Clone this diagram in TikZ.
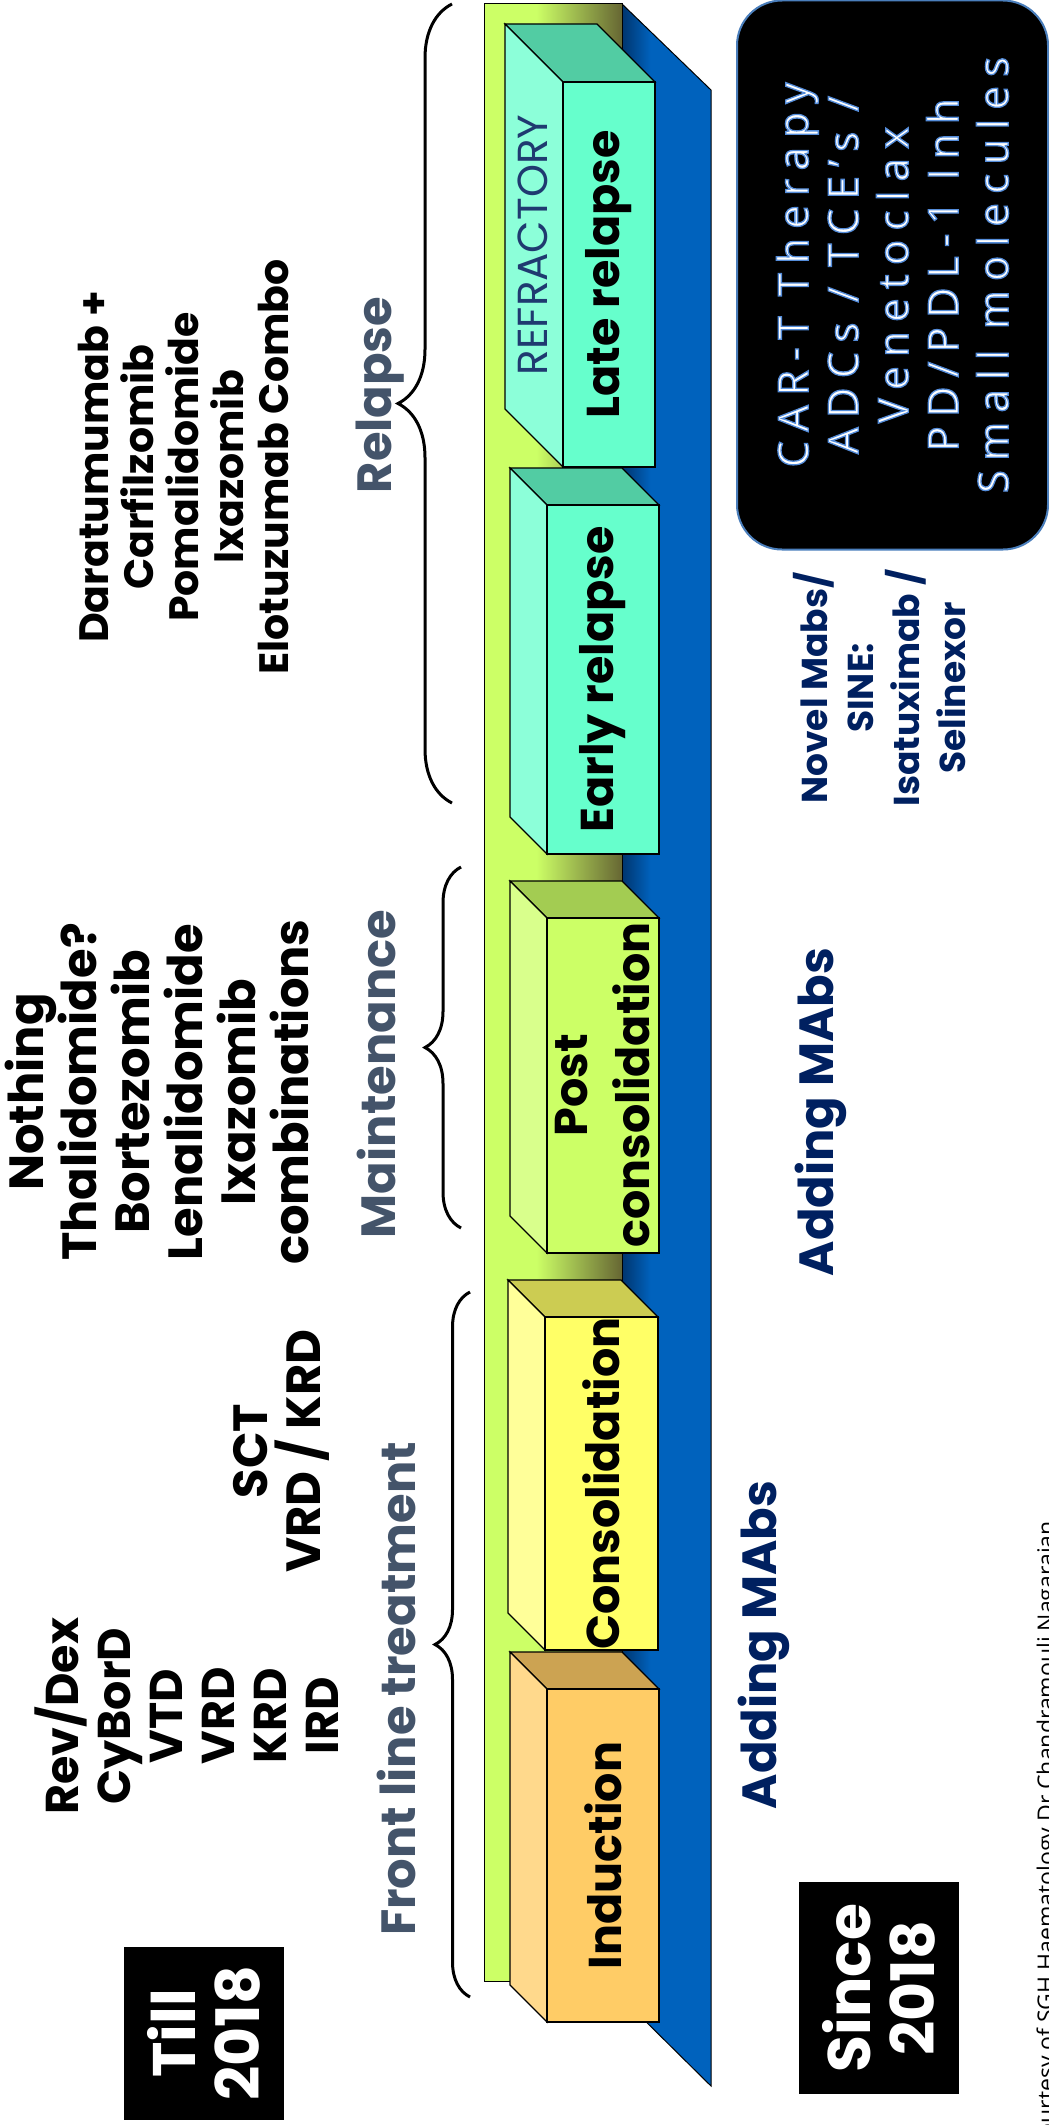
\documentclass[tikz,border=0pt]{standalone}
\usepackage{fontspec}
\setmainfont{Poppins}
\newfontfamily\cartfont{Open Sans}[LetterSpace=22]
\newfontfamily\creditfont{Open Sans}
\usetikzlibrary{decorations.pathreplacing}

\definecolor{slate}{HTML}{44546A}
\definecolor{navy}{HTML}{002060}
\definecolor{refblue}{HTML}{1F3A70}
\definecolor{barlight}{HTML}{CCFF66}
\definecolor{barolive}{HTML}{666633}
\definecolor{bluedark}{HTML}{00356E}
\definecolor{bluemain}{HTML}{0062BD}
\definecolor{cartedge}{HTML}{4A7EBB}
\definecolor{indfront}{HTML}{FFCC66}
\definecolor{indside}{HTML}{FFD98C}
\definecolor{indtop}{HTML}{CCA352}
\definecolor{confront}{HTML}{FFFF66}
\definecolor{conside}{HTML}{FFFF99}
\definecolor{contop}{HTML}{CCCC52}
\definecolor{postfront}{HTML}{CCFF66}
\definecolor{postside}{HTML}{D9FF8C}
\definecolor{posttop}{HTML}{A3CC52}
\definecolor{relfront}{HTML}{66FFCC}
\definecolor{relside}{HTML}{8CFFD9}
\definecolor{reltop}{HTML}{52CCA3}

\pgfdeclarehorizontalshading{barshade}{100bp}{color(0bp)=(barlight); color(25bp)=(barlight); color(44bp)=(barlight); color(75bp)=(barolive); color(100bp)=(barolive)}
\pgfdeclarehorizontalshading{blueshade}{100bp}{color(0bp)=(bluedark); color(25bp)=(bluedark); color(41bp)=(bluemain); color(100bp)=(bluemain)}

% 3D phase box: front corners (#1,#2)-(#3,#4), depth #5, colours front/side/top
\newcommand{\phasebox}[8]{%
  \filldraw[boxedge, fill=#8] (#1,#2) -- (#3,#2) -- ({#3-#5},{#2-#5}) -- ({#1-#5},{#2-#5}) -- cycle;
  \filldraw[boxedge, fill=#7] (#1,#2) -- ({#1-#5},{#2-#5}) -- ({#1-#5},{#4-#5}) -- (#1,#4) -- cycle;
  \filldraw[boxedge, fill=#6] (#1,#2) rectangle (#3,#4);
}
\newcommand{\glowon}{\special{pdf:literal direct 2 Tr 1.3 w 0.33 0.55 0.85 RG}}

\begin{document}
\begin{tikzpicture}[
    x=1pt, y=-1pt,
    boxedge/.style={draw=black, line width=1.1pt},
    boxlabel/.style={rotate=90, align=center, inner sep=0pt, font=\bfseries\fontsize{46}{55}\selectfont},
    druglist/.style={rotate=90, align=center, inner sep=0pt, font=\bfseries\fontsize{48}{53}\selectfont},
    phase/.style={rotate=90, anchor=base, inner sep=0pt, text=slate, font=\bfseries\fontsize{48}{56}\selectfont},
    mabs/.style={rotate=90, anchor=base, inner sep=0pt, text=navy, font=\bfseries\fontsize{48}{56}\selectfont},
    yearbox/.style={rotate=90, fill=black, text=white, align=center, inner sep=0pt, minimum height=160pt, font=\bfseries\fontsize{60}{64}\selectfont},
    bracket/.style={decorate, decoration={brace, amplitude=#1}, line width=3pt}
]
\useasboundingbox (0,0) rectangle (1049,2125);
\clip (0,0) rectangle (1049,2125);

% Define the bar and its shadow
\path[shading=blueshade, draw=black, line width=1pt] (622,4) -- (711,90) -- (711,2086) -- (622,1998) -- cycle;
\path[shading=barshade, draw=black, line width=1pt] (484,4) rectangle (622,1981);

% Define the phase boxes
\phasebox{563}{82}{655}{467}{58}{relfront}{relside}{reltop}
\phasebox{547}{505}{659}{854}{37}{relfront}{relside}{reltop}
\phasebox{547}{918}{659}{1253}{37}{postfront}{postside}{posttop}
\phasebox{545}{1317}{658}{1650}{37}{confront}{conside}{contop}
\phasebox{547}{1689}{659}{2022}{37}{indfront}{indside}{indtop}

\node[boxlabel] (laterel) at (609,274.5) {Late relapse};
\node[rotate=90, inner sep=0pt, text=refblue, font=\fontsize{42}{48}\selectfont] (refractory) at (533,245) {REFRACTORY};
\node[boxlabel] (earlyrel) at (603,679.5) {Early relapse};
\node[boxlabel, font=\bfseries\fontsize{46}{62}\selectfont] (postcons) at (603,1085) {Post\\consolidation};
\node[boxlabel] (consol) at (601.5,1483.5) {Consolidation};
\node[boxlabel] (induction) at (603,1855.5) {Induction};

% Define the braces and phase names
\draw[bracket=35pt] (470,1997) -- (470,1292);
\draw[bracket=36pt] (461,1228) -- (461,867);
\draw[bracket=54pt] (452,803) -- (452,4);
\node[phase] (frontline) at (415,1689) {Front line treatment};
\node[phase] (maint) at (395,1074) {Maintenance};
\node[phase] (relapse) at (391,395) {Relapse};

% Define the drug lists
\node[druglist, font=\bfseries\fontsize{46}{52}\selectfont] (revlist) at (187,1716) {Rev/Dex\\CyBorD\\VTD\\VRD\\KRD\\IRD};
\node[druglist] (sctlist) at (281,1451) {SCT\\VRD / KRD};
\node[druglist] (maintlist) at (157,1092) {Nothing\\Thalidomide?\\Bortezomib\\Lenalidomide\\Ixazomib\\combinations};
\node[druglist, font=\bfseries\fontsize{41}{45}\selectfont] (relapselist) at (183,467) {Daratumumab +\\Carfilzomib\\Pomalidomide\\Ixazomib\\Elotuzumab Combo};

% Define the newer agents
\node[mabs] (mabslow) at (776,1645) {Adding MAbs};
\node[mabs] (mabshigh) at (833,1112) {Adding MAbs};
\node[druglist, text=navy, font=\bfseries\fontsize{36}{46}\selectfont] (novel) at (880,688) {Novel Mabs/\\SINE:\\Isatuximab /\\Selinexor};
\node[rotate=90, fill=black, draw=cartedge, line width=2pt, rounded corners=45pt, minimum width=549pt, minimum height=311pt, align=center, text=white, font=\cartfont\fontsize{42}{50}\selectfont] (cart) at (892.5,275) {\glowon CAR-T Therapy\\ADCs / TCE’s /\\Venetoclax\\PD/PDL-1 Inh\\Small molecules};

% Define the year boxes
\node[yearbox, minimum width=173pt] (till) at (204,2033.5) {Till\\2018};
\node[yearbox, minimum width=212pt] (since) at (879,1988) {Since\\2018};

\node[rotate=90, anchor=base west, inner sep=0pt, font=\creditfont\fontsize{23}{28}\selectfont] (credit) at (1054,2152) {Courtesy of SGH Haematology Dr Chandramouli Nagarajan};

\end{tikzpicture}
\end{document}
